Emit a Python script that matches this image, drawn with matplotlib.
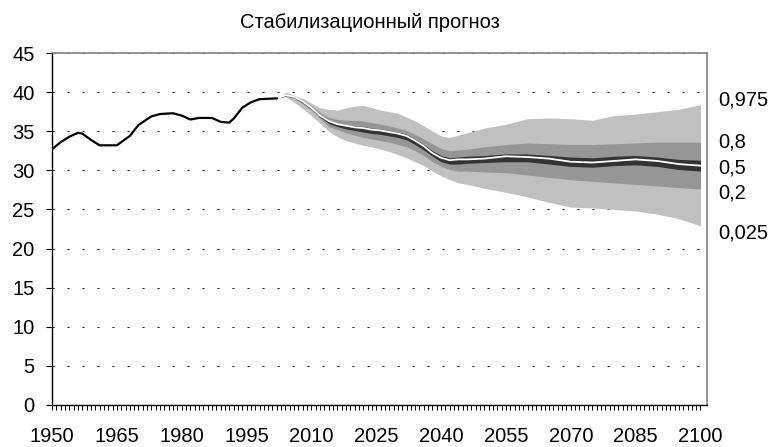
import matplotlib
matplotlib.use("Agg")
import matplotlib.pyplot as plt
import numpy as np

plt.rcParams["font.family"] = ["Liberation Sans", "DejaVu Sans"]

TITLE = "Стабилизационный прогноз"

# observed values
hist_years = [1950, 1952, 1954, 1956, 1957, 1959, 1961, 1965, 1968, 1970, 1973,
              1975, 1978, 1980, 1982, 1984, 1987, 1989, 1991, 1992, 1994, 1996,
              1998, 2002]
hist_vals = [32.7, 33.6, 34.3, 34.8, 34.7, 33.9, 33.2, 33.2, 34.4, 35.8, 36.9,
             37.2, 37.3, 37.0, 36.5, 36.7, 36.7, 36.2, 36.1, 36.6, 38.0, 38.7,
             39.1, 39.2]

# forecast quantiles
fc_years = [2002, 2004, 2006, 2008, 2010, 2012, 2014, 2016, 2018, 2020, 2022,
            2024, 2026, 2028, 2030, 2032, 2034, 2036, 2038, 2040, 2042, 2044,
            2046, 2050, 2055, 2060, 2065, 2070, 2075, 2080, 2085, 2090, 2095, 2100]
q975 = [39.2, 40.0, 39.6, 39.2, 38.6, 38.0, 37.8, 37.7, 38.0, 38.2, 38.3,
        38.0, 37.7, 37.5, 37.3, 36.8, 36.3, 35.7, 35.0, 34.4, 34.2, 34.5,
        34.8, 35.4, 35.9, 36.6, 36.7, 36.6, 36.4, 37.0, 37.2, 37.5, 37.8, 38.4]
q80 = [39.2, 39.7, 39.5, 39.0, 38.3, 37.4, 36.8, 36.5, 36.4, 36.4, 36.3,
       36.1, 35.9, 35.7, 35.4, 35.1, 34.6, 34.0, 33.4, 32.8, 32.5, 32.6,
       32.7, 33.0, 33.3, 33.5, 33.4, 33.3, 33.3, 33.4, 33.5, 33.6, 33.6, 33.6]
q60 = [39.2, 39.6, 39.4, 38.8, 38.0, 37.1, 36.4, 36.0, 35.8, 35.7, 35.6,
       35.4, 35.3, 35.1, 34.9, 34.6, 34.0, 33.3, 32.5, 31.9, 31.6, 31.7,
       31.8, 31.9, 32.1, 32.1, 31.9, 31.7, 31.6, 31.8, 31.9, 31.7, 31.4, 31.3]
q50 = [39.2, 39.6, 39.4, 38.8, 38.0, 37.0, 36.3, 35.9, 35.7, 35.5, 35.4,
       35.2, 35.1, 34.9, 34.7, 34.4, 33.8, 33.1, 32.2, 31.6, 31.3, 31.4,
       31.4, 31.5, 31.8, 31.7, 31.5, 31.1, 31.0, 31.2, 31.4, 31.2, 30.8, 30.6]
q40 = [39.2, 39.5, 39.3, 38.6, 37.8, 36.8, 36.0, 35.6, 35.3, 35.1, 34.9,
       34.7, 34.6, 34.4, 34.2, 33.9, 33.3, 32.6, 31.8, 31.1, 30.8, 30.8,
       30.9, 31.0, 31.1, 31.1, 30.8, 30.5, 30.4, 30.6, 30.7, 30.5, 30.1, 29.9]
q20 = [39.2, 39.5, 39.2, 38.5, 37.7, 36.6, 35.6, 35.2, 34.8, 34.5, 34.2,
       34.0, 33.8, 33.6, 33.3, 33.0, 32.5, 31.9, 31.1, 30.5, 30.1, 29.9,
       29.9, 29.8, 29.7, 29.4, 29.1, 28.8, 28.6, 28.4, 28.2, 28.0, 27.8, 27.6]
q025 = [39.2, 39.4, 38.7, 37.9, 37.0, 36.0, 35.0, 34.3, 33.8, 33.5, 33.2,
        33.0, 32.7, 32.4, 32.0, 31.6, 31.1, 30.6, 29.9, 29.3, 28.8, 28.4,
        28.2, 27.7, 27.2, 26.6, 25.9, 25.3, 25.2, 25.0, 24.8, 24.4, 23.8, 22.9]

quantile_labels = ["0,975", "0,8", "0,5", "0,2", "0,025"]

fig = plt.figure(figsize=(7.74, 4.47), dpi=100)
ax = fig.add_axes([0.0672, 0.094, 0.8462, 0.7874])

ax.fill_between(fc_years, q025, q975, color="#c0c0c0", lw=0, zorder=2)
ax.fill_between(fc_years, q20, q80, color="#969696", lw=0, zorder=3)
ax.fill_between(fc_years, q40, q60, color="#333333", lw=0, zorder=4)
ax.plot(fc_years, q50, color="white", lw=1.3, zorder=5)
ax.plot(hist_years, hist_vals, color="black", lw=1.6, zorder=5)

ax.set_xlim(1950, 2101.5)
ax.set_ylim(0, 45)
ax.set_xticks(np.arange(1950, 2101, 15))
ax.set_xticks(np.arange(1950, 2101, 1), minor=True)
ax.set_yticks(np.arange(0, 46, 5))
ax.tick_params(axis="x", which="both", direction="out", length=3.5, width=0.7,
               labelsize=14.5, pad=12)
ax.tick_params(axis="y", direction="out", length=4.5, width=0.8,
               labelsize=14.5, pad=8)

ax.set_axisbelow(True)
ax.yaxis.grid(True, color="#202020", lw=0.75, linestyle=(0, (2.0, 12.4)))

for side in ["left", "bottom"]:
    ax.spines[side].set_color("black")
    ax.spines[side].set_linewidth(1.0)
for side in ["top", "right"]:
    ax.spines[side].set_color("#808080")
    ax.spines[side].set_linewidth(1.2)

ends = [q975[-1], q80[-1], q50[-1], q20[-1], q025[-1]]
offsets = [3.5, 0, -1.5, -2.5, -5]
for lab, yv, dy in zip(quantile_labels, ends, offsets):
    ax.annotate(lab, xy=(1, yv), xycoords=ax.get_yaxis_transform(),
                xytext=(8, dy), textcoords="offset points",
                ha="left", va="center", fontsize=14.5, annotation_clip=False)

fig.text(370 / 774, 1 - 22 / 447, TITLE, ha="center", va="center", fontsize=14.5)

fig.savefig("out.png", dpi=100)
